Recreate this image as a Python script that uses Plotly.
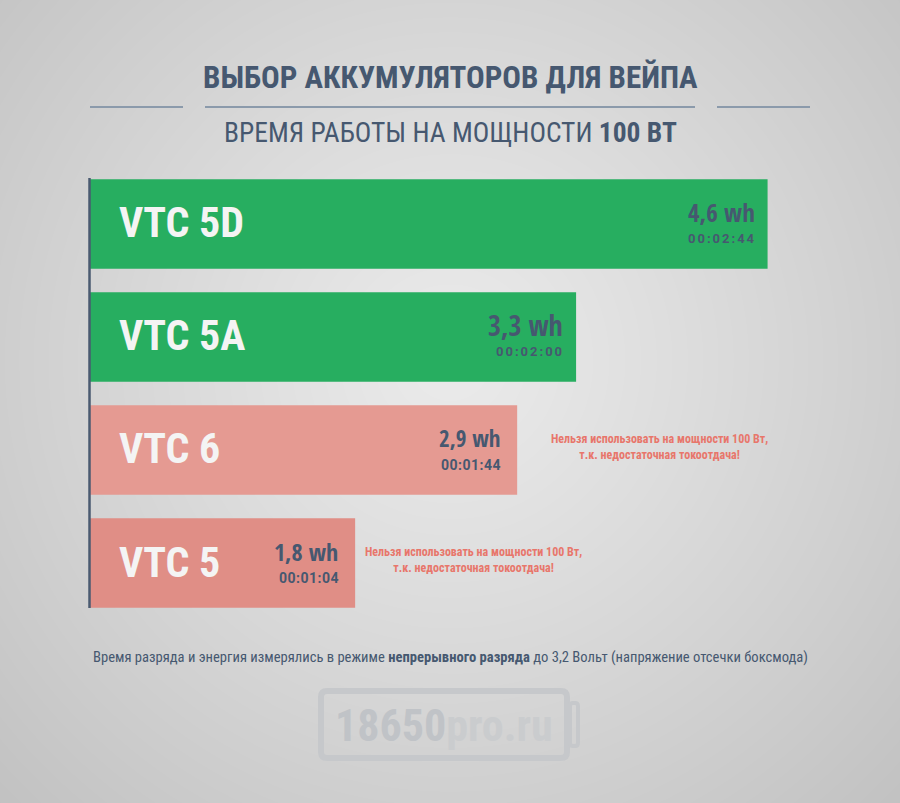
import base64, zlib, struct
import numpy as np
import plotly.graph_objects as go

# ---------------- data ----------------
batteries = ["VTC 5D", "VTC 5A", "VTC 6", "VTC 5"]
energy_wh = [4.6, 3.3, 2.9, 1.8]
energy_labels = ["4,6 wh", "3,3 wh", "2,9 wh", "1,8 wh"]
time_labels = ["00:02:44", "00:02:00", "00:01:44", "00:01:04"]
suitable = [True, True, False, False]
note_text = "Нельзя использовать на мощности 100 Вт,<br>т.к. недостаточная токоотдача!"

W, H = 900, 803
COND = "Roboto Condensed, Open Sans Condensed, DejaVu Sans Condensed, sans-serif"
OSC = "Open Sans Condensed, Roboto Condensed, sans-serif"
ROBOTO = "Roboto, Liberation Sans, sans-serif"
DARK = "#465870"
GREEN = "#27ae60"
REDS = ["#e59a92", "#e08e86"]
NOTE = "#e8766b"


def px(x):
    return x / W


def py(y):
    return 1 - y / H


def gradient_png():
    yy, xx = np.mgrid[0:H, 0:W].astype(float)
    d = np.sqrt(((xx - 450) / 560.0) ** 2 + ((yy - 360) / 560.0) ** 2)
    v = 235 - 36 * d ** 1.1
    v = np.clip(v, 0, 255).astype(np.uint8)
    raw = b"".join(b"\x00" + v[i].tobytes() for i in range(H))

    def chunk(tag, data):
        c = tag + data
        return struct.pack(">I", len(data)) + c + struct.pack(">I", zlib.crc32(c) & 0xFFFFFFFF)

    png = b"\x89PNG\r\n\x1a\n" + chunk(b"IHDR", struct.pack(">IIBBBBB", W, H, 8, 0, 0, 0, 0))
    png += chunk(b"IDAT", zlib.compress(raw, 9)) + chunk(b"IEND", b"")
    return "data:image/png;base64," + base64.b64encode(png).decode()


colors = []
ri = 0
for s in suitable:
    if s:
        colors.append(GREEN)
    else:
        colors.append(REDS[ri % 2])
        ri += 1

fig = go.Figure(go.Bar(x=energy_wh, y=batteries, orientation="h",
                       marker=dict(color=colors, line=dict(width=0)), hoverinfo="skip"))

annotations = []
annotations.append(dict(x=0.5, y=py(78), xref="paper", yref="paper", text="<b>ВЫБОР АККУМУЛЯТОРОВ ДЛЯ ВЕЙПА</b>",
                        showarrow=False, font=dict(family=COND, size=31, color=DARK), xanchor="center", yanchor="middle"))
annotations.append(dict(x=0.5, y=py(132), xref="paper", yref="paper", text="ВРЕМЯ РАБОТЫ НА МОЩНОСТИ <b>100 ВТ</b>",
                        showarrow=False, font=dict(family=COND, size=27.5, color=DARK), xanchor="center", yanchor="middle"))

wh_sizes = [25, 28, 23, 24]
time_sizes = [13, 13, 14, 14]
time_spacing = ["2px", "2px", "0.5px", "0.5px"]
label_shift = [-11, -11, -15, -15]
note_shift = [0, 0, 32, 8]
for i, b in enumerate(batteries):
    annotations.append(dict(x=px(117), y=b, xref="paper", yref="y", text="<b>%s</b>" % b,
                            showarrow=False, xanchor="left", yanchor="middle", yshift=1,
                            font=dict(family=COND, size=42, color="#f4f4f4")))
    annotations.append(dict(x=energy_wh[i], y=b, xref="x", yref="y", text="<b>%s</b>" % energy_labels[i],
                            showarrow=False, xanchor="right", yanchor="middle", xshift=label_shift[i], yshift=12,
                            font=dict(family=OSC, size=wh_sizes[i], color=DARK)))
    annotations.append(dict(x=energy_wh[i], y=b, xref="x", yref="y",
                            text="<span style='letter-spacing:%s'><b>%s</b></span>" % (time_spacing[i], time_labels[i]),
                            showarrow=False, xanchor="right", yanchor="middle", xshift=label_shift[i] + 1, yshift=-15,
                            font=dict(family=ROBOTO, size=time_sizes[i], color=DARK)))
    if not suitable[i]:
        annotations.append(dict(x=energy_wh[i], y=b, xref="x", yref="y", text="<b>%s</b>" % note_text,
                                showarrow=False, xanchor="left", yanchor="middle", xshift=note_shift[i], yshift=3,
                                align="center", font=dict(family=COND, size=12, color=NOTE)))

annotations.append(dict(x=0.5, y=py(657), xref="paper", yref="paper",
                        text="Время разряда и энергия измерялись в режиме <b>непрерывного разряда</b> до 3,2 Вольт (напряжение отсечки боксмода)",
                        showarrow=False, xanchor="center", yanchor="middle",
                        font=dict(family=COND, size=14.6, color=DARK)))
annotations.append(dict(x=px(333), y=py(726), xref="paper", yref="paper",
                        text="<b>18650</b><span style='fill:#caccce'><b>pro.ru</b></span>",
                        showarrow=False, xanchor="left", yanchor="middle",
                        font=dict(family=COND, size=44, color="#c0c3c7")))

shapes = []
for x0, x1 in [(90, 183), (205, 695), (717, 810)]:
    shapes.append(dict(type="line", xref="paper", yref="paper", x0=px(x0), x1=px(x1), y0=py(107), y1=py(107),
                       line=dict(color="#8b9aab", width=2)))
shapes.append(dict(type="line", xref="paper", yref="paper", x0=px(89.5), x1=px(89.5), y0=py(178), y1=py(608),
                   line=dict(color="#4a5a70", width=2.5), layer="above"))


def rpath(x0, y0, x1, y1, r):
    X = lambda v: "%.5f" % px(v)
    Y = lambda v: "%.5f" % py(v)
    return ("M %s,%s L %s,%s Q %s,%s %s,%s L %s,%s Q %s,%s %s,%s L %s,%s Q %s,%s %s,%s L %s,%s Q %s,%s %s,%s Z" % (
        X(x0 + r), Y(y0), X(x1 - r), Y(y0), X(x1), Y(y0), X(x1), Y(y0 + r), X(x1), Y(y1 - r), X(x1), Y(y1),
        X(x1 - r), Y(y1), X(x0 + r), Y(y1), X(x0), Y(y1), X(x0), Y(y1 - r), X(x0), Y(y0 + r), X(x0), Y(y0),
        X(x0 + r), Y(y0)))


shapes.append(dict(type="path", xref="paper", yref="paper", path=rpath(321, 691, 567, 758, 6),
                   line=dict(color="#c6c8cb", width=6), layer="below"))
shapes.append(dict(type="path", xref="paper", yref="paper", path=rpath(570, 703, 578, 746, 3),
                   line=dict(color="#c6c8cb", width=4), layer="below"))

fig.update_layout(
    width=W, height=H, margin=dict(l=0, r=0, t=0, b=0),
    paper_bgcolor="#dcdcdc", plot_bgcolor="rgba(0,0,0,0)", showlegend=False, bargap=0.21,
    xaxis=dict(domain=[px(90), 1.0], range=[0, 810 / 147.3], visible=False, fixedrange=True),
    yaxis=dict(domain=[py(619.5), py(167.5)], autorange="reversed", visible=False, fixedrange=True,
               categoryorder="array", categoryarray=batteries),
    annotations=annotations, shapes=shapes,
    images=[dict(source=gradient_png(), xref="paper", yref="paper", x=0, y=1, sizex=1, sizey=1,
                 xanchor="left", yanchor="top", sizing="stretch", layer="below")],
)

fig.write_html("out.html", config={"displayModeBar": False},
               post_script="document.body.style.margin='0';document.body.style.overflow='hidden';document.documentElement.style.overflow='hidden';")
